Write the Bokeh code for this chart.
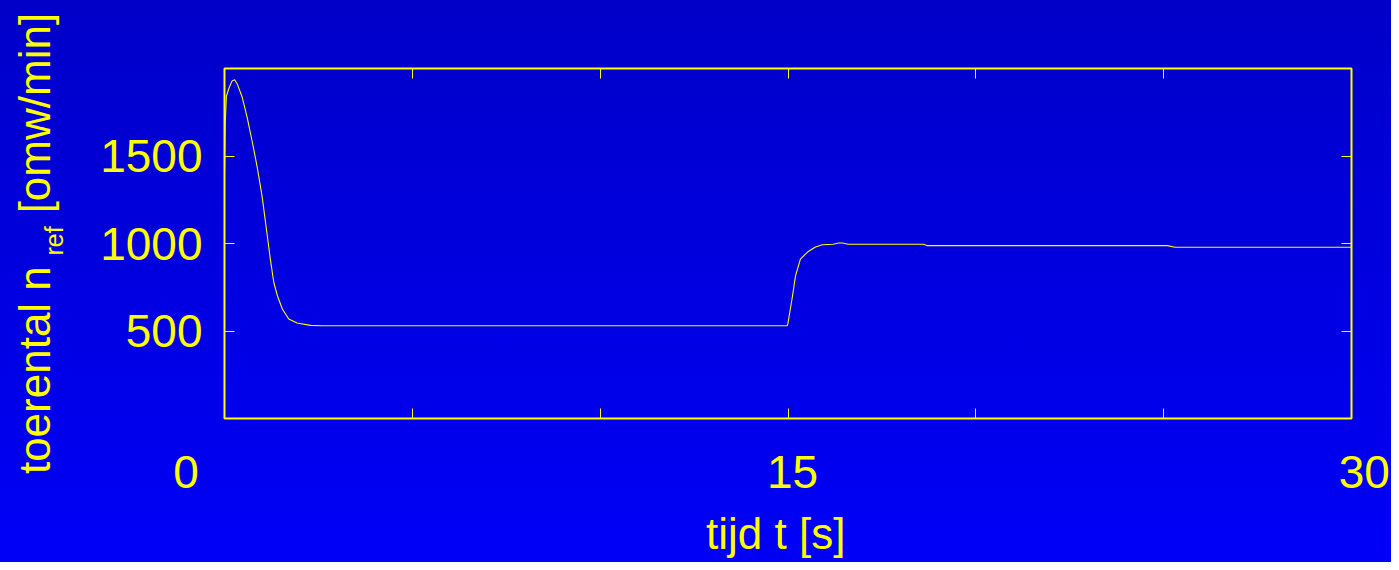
from bokeh.plotting import figure
from bokeh.models import Range1d, LinearAxis, FixedTicker, InlineStyleSheet
from bokeh.embed import file_html
from bokeh.resources import INLINE

# ---- data ----
time_s = [0.0, 0.02, 0.05, 0.11, 0.20, 0.27, 0.34, 0.47, 0.60, 0.74, 0.87,
          1.00, 1.14, 1.22, 1.31, 1.41, 1.54, 1.71, 1.93, 2.29, 2.60,
          14.98, 15.00, 15.05, 15.12, 15.20, 15.33, 15.52, 15.73, 15.92,
          16.20, 16.35, 16.45, 16.60, 18.60, 18.70, 25.10, 25.30, 30.00]
speed_rpm = [1400, 1690, 1840, 1883, 1929, 1936, 1911, 1837, 1723, 1580, 1437,
             1271, 1043, 911, 780, 700, 626, 569, 546, 532, 530,
             530, 545, 610, 700, 815, 911, 951, 980, 993,
             996, 1003, 1003, 996, 996, 988, 988, 979, 979]

x_ticks = [0, 5, 10, 15, 20, 25, 30]
x_tick_labels = {0: "0", 15: "15", 30: "30"}
y_ticks = [500, 1000, 1500]
y_tick_labels = {500: "500", 1000: "1000", 1500: "1500"}

x_label = "tijd t [s]"
y_label_main = "toerental n"
y_label_sub = "ref"
y_label_unit = "[omw/min]"

YEL = "#ffff00"
FONT = "Liberation Sans"
NB = "\u00a0"

# label padding (moves the labels sideways like in the reference)
x_label_pad = {0: ("", NB * 6), 15: ("\u2009", ""), 30: (NB * 2, "")}

W, H = 1391, 562
p = figure(width=W, height=H, output_backend="svg", toolbar_location=None,
           x_range=Range1d(0, 30), y_range=Range1d(0, 2000),
           min_border_left=224, min_border_right=40,
           min_border_top=68, min_border_bottom=144)
p.border_fill_color = None
p.background_fill_color = None
p.outline_line_color = YEL
p.outline_line_width = 2
p.grid.visible = False
p.stylesheets = [InlineStyleSheet(
    css=":host { background: linear-gradient(to bottom, #0000c8, #0000f8); }")]


def style_axis(ax, ticks, overrides):
    ax.ticker = FixedTicker(ticks=ticks)
    ax.major_label_overrides = overrides
    ax.minor_tick_line_color = None
    ax.major_tick_in = 10
    ax.major_tick_out = 0
    ax.major_tick_line_color = YEL
    ax.major_tick_line_width = 1
    ax.axis_line_color = None
    ax.major_label_text_color = YEL
    ax.major_label_text_font = FONT
    ax.major_label_text_font_size = "46px"
    ax.axis_label_text_color = YEL
    ax.axis_label_text_font = FONT
    ax.axis_label_text_font_style = "normal"


# bottom axis: ticks every 5 s, labels at 0, 15, 30
xo = {v: "" for v in x_ticks}
for v, t in x_tick_labels.items():
    pre, post = x_label_pad[v]
    xo[v] = pre + t + post
xax = p.xaxis[0]
style_axis(xax, x_ticks, xo)
xax.major_label_standoff = 27
xax.axis_label = x_label + NB * 2
xax.axis_label_text_font_size = "44px"
xax.axis_label_standoff = 8

# left axis: tick labels + subscript "ref" as its axis label
yax = p.yaxis[0]
style_axis(yax, y_ticks, y_tick_labels)
yax.major_label_standoff = 22
yax.axis_label = "\u2009" + y_label_sub
yax.axis_label_text_font_size = "25px"
yax.axis_label_standoff = 29

# outer left axis carrying the main y label text
yax2 = LinearAxis()
style_axis(yax2, [], {})
yax2.major_tick_in = 0
yax2.major_label_standoff = 0
yax2.axis_label = y_label_main + "\u2003\u2009" + y_label_unit
yax2.axis_label_text_font_size = "44px"
yax2.axis_label_standoff = -21
p.add_layout(yax2, "left")

# mirrored top and right axes (ticks only)
top_ax = LinearAxis()
right_ax = LinearAxis()
style_axis(top_ax, x_ticks, {v: "" for v in x_ticks})
style_axis(right_ax, y_ticks, {v: "" for v in y_ticks})
top_ax.major_label_standoff = 0
right_ax.major_label_standoff = 0
p.add_layout(top_ax, "above")
p.add_layout(right_ax, "right")

p.line(time_s, speed_rpm, line_color=YEL, line_width=1.1)

open("out.html", "w").write(file_html(p, INLINE))
